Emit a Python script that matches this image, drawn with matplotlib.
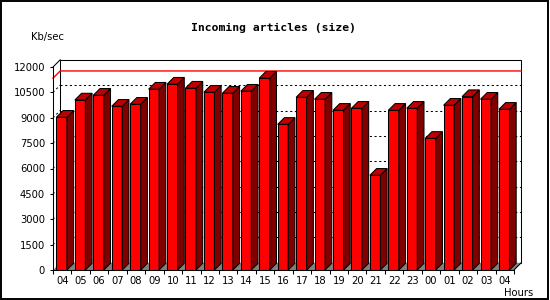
import matplotlib
matplotlib.use('Agg')
import matplotlib.pyplot as plt
from matplotlib.patches import Polygon, Rectangle

# ---- data ----
hours = ['04', '05', '06', '07', '08', '09', '10', '11', '12', '13', '14', '15', '16',
         '17', '18', '19', '20', '21', '22', '23', '00', '01', '02', '03', '04']
values = [9030, 10050, 10330, 9680, 9800, 10690, 10985, 10750, 10510, 10450, 10570, 11340,
          8610, 10210, 10095, 9440, 9560, 5600, 9440, 9560, 7780, 9740, 10250, 10095, 9500]
y_ticks = [0, 1500, 3000, 4500, 6000, 7500, 9000, 10500, 12000]
title = 'Incoming articles (size)'
y_unit = 'Kb/sec'
x_unit = 'Hours'

# ---- figure ----
W, H, DPI = 550, 300, 100
fig = plt.figure(figsize=(W / DPI, H / DPI), dpi=DPI)
fig.patch.set_facecolor('white')
AX_L, AX_B, AX_W, AX_H = 53, 30, 461, 203
ax = fig.add_axes([AX_L / W, AX_B / H, AX_W / W, AX_H / H])
ax.set_facecolor('none')

n = len(values)
ymax = y_ticks[-1]
ax.set_xlim(0, n)
ax.set_ylim(0, ymax)
px_x = n / AX_W
px_y = ymax / AX_H
DX, DY = 7.2 * px_x, 7.2 * px_y       # wall depth
BDX, BDY = 6.7 * px_x, 6.7 * px_y     # bar depth
LW = 0.75

FRONT = '#ff0000'
SIDE = '#800000'
TOP = '#c00000'
FLOOR = '#808080'

# back plane
ax.add_patch(Rectangle((DX, DY), n, ymax, facecolor='white', edgecolor='black',
                       lw=LW, zorder=1, clip_on=False))
# floor
ax.add_patch(Polygon([(0, 0), (n, 0), (n + DX, DY), (DX, DY)], closed=True,
                     facecolor=FLOOR, edgecolor='none', zorder=1.5, clip_on=False))
# wall edges
ax.plot([0, DX], [ymax, ymax + DY], color='black', lw=LW, zorder=2, clip_on=False)
ax.plot([n, n + DX], [0, DY], color='black', lw=LW, zorder=2, clip_on=False)

# grid lines on back plane + wall
for v in y_ticks[1:-1]:
    ax.plot([DX, n + DX], [v + DY, v + DY], color='black', lw=LW,
            linestyle=(0, (2, 2.5)), zorder=2, clip_on=False)
    ax.plot([0, DX], [v, v + DY], color='black', lw=LW,
            linestyle=(0, (2, 2.5)), zorder=2, clip_on=False)

# max line (red)
vmax = max(values)
ax.plot([0, DX, n + DX], [vmax, vmax + DY, vmax + DY], color='#ff0000', lw=1.0,
        zorder=2.2, clip_on=False)

# bars
off = 0.185
bw = 0.57
xs = [i + off for i in range(n)]
ax.bar(xs, values, width=bw, align='edge', color=FRONT, edgecolor='black',
       lw=LW, zorder=3)
for x0, v in zip(xs, values):
    x1 = x0 + bw
    side = Polygon([(x1, 0), (x1, v), (x1 + BDX, v + BDY), (x1 + BDX, BDY)], closed=True,
                   facecolor=SIDE, edgecolor='black', lw=LW, zorder=3, clip_on=False)
    top = Polygon([(x0, v), (x1, v), (x1 + BDX, v + BDY), (x0 + BDX, v + BDY)], closed=True,
                  facecolor=TOP, edgecolor='black', lw=LW, zorder=3, clip_on=False)
    ax.add_patch(side)
    ax.add_patch(top)

# axes, ticks
for s in ['top', 'right']:
    ax.spines[s].set_visible(False)
for s in ['left', 'bottom']:
    ax.spines[s].set_linewidth(LW)
    ax.spines[s].set_zorder(4)

ax.set_yticks(y_ticks)
ax.set_yticklabels([str(t) for t in y_ticks])
ax.tick_params(axis='y', length=2.3, width=LW, pad=3.4, labelsize=7.2)

ax.set_xticks(range(n + 1))
ax.set_xticklabels([])
ax.set_xticks([i + 0.5 for i in range(n)], minor=True)
ax.set_xticklabels(hours, minor=True)
ax.tick_params(axis='x', which='major', length=2.6, width=LW)
ax.tick_params(axis='x', which='minor', length=0, pad=4.2, labelsize=7.2)

# texts
fig.text(273.7 / W, 1 - 27.5 / H, title, ha='center', va='center',
         fontsize=8.2, fontweight='bold', family='DejaVu Sans Mono')
fig.text(47.5 / W, 1 - 37 / H, y_unit, ha='center', va='center', fontsize=7.2)
fig.text(519 / W, 1 - 292.5 / H, x_unit, ha='center', va='center', fontsize=7.2)

# frame around image
fig.patches.append(Rectangle((0.8 / W, 0.8 / H), (W - 2.6) / W, (H - 2.0) / H,
                             transform=fig.transFigure, fill=False,
                             edgecolor='black', lw=1.4))

fig.savefig('out.png', dpi=DPI)
